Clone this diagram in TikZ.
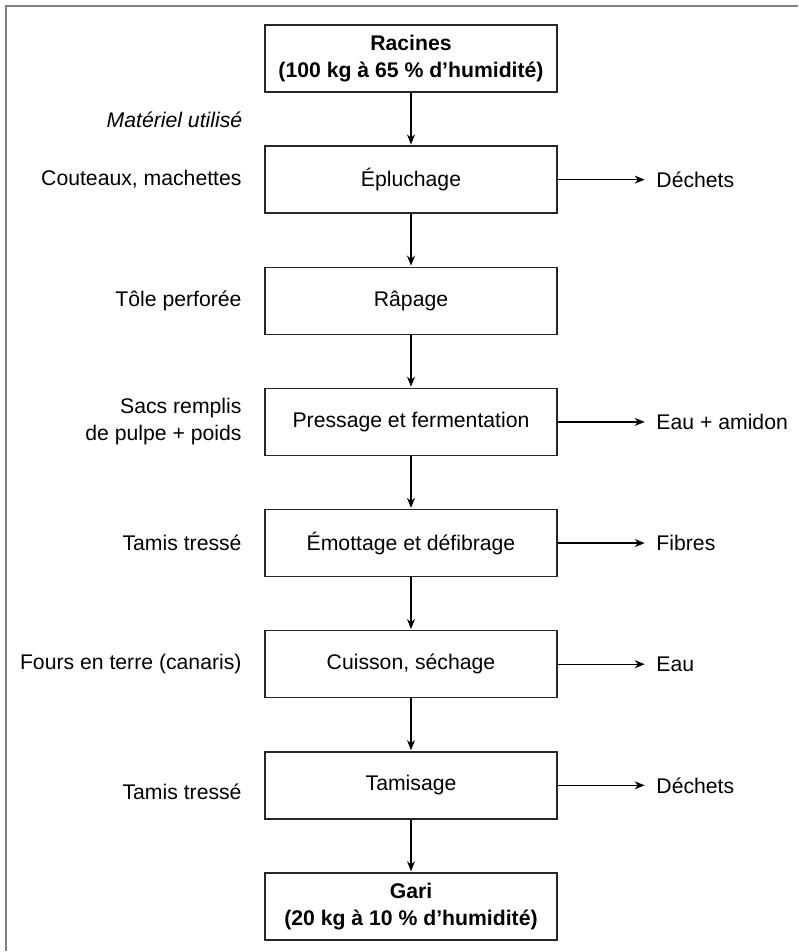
\documentclass[tikz,border=0pt]{standalone}
\usepackage{fontspec}
\setmainfont{Liberation Sans}
\usetikzlibrary{arrows.meta,positioning}

\begin{document}
\fontsize{10.6}{13.5}\selectfont
\begin{tikzpicture}[->,>={Stealth[length=5pt,width=4pt]},shorten >=0.5pt,auto,node distance=60.57pt,
    line width=0.7pt,step box/.style={rectangle,draw=black!85,minimum width=146pt,minimum height=33.5pt,align=center},
    end box/.style={step box,font=\bfseries}, mat node/.style={align=right}, out node/.style={align=left}]

  \useasboundingbox (-205.5pt,29.25pt) rectangle (193.5pt,-446.75pt);
  \draw[-,black!50,line width=1pt] (193.5pt,26.25pt) -- (-202.5pt,26.25pt) -- (-202.5pt,-446.75pt);

  \node[end box] (rac) {Racines\\(100 kg à 65 \% d’humidité)};
  \node[step box] (eplu) [below of=rac] {Épluchage};
  \node[step box] (rap) [below of=eplu] {Râpage};
  \node[step box] (press) [below of=rap] {Pressage et fermentation};
  \node[step box] (emot) [below of=press] {Émottage et défibrage};
  \node[step box] (cuis) [below of=emot] {Cuisson, séchage};
  \node[step box] (tamis) [below of=cuis] {Tamisage};
  \node[end box] (gari) [below of=tamis] {Gari\\(20 kg à 10 \% d’humidité)};

  \node[mat node,font=\itshape,anchor=east] (mat) at (-80.5pt,-30.75pt) {Matériel utilisé};
  \node[mat node,left=7.5pt of eplu] (couteaux) {Couteaux, machettes};
  \node[mat node,left=7.5pt of rap] (tole) {Tôle perforée};
  \node[mat node,left=7.5pt of press] (sacs) {Sacs remplis\\de pulpe + poids};
  \node[mat node,left=7.5pt of emot] (tamisA) {Tamis tressé};
  \node[mat node,left=7.5pt of cuis] (fours) {Fours en terre (canaris)};
  \node[mat node,left=7.5pt of tamis,yshift=-3pt] (tamisB) {Tamis tressé};

  \node[out node,right=45.5pt of eplu] (dechA) {Déchets};
  \node[out node,right=45.5pt of press] (eauam) {Eau + amidon};
  \node[out node,right=45.5pt of emot] (fibres) {Fibres};
  \node[out node,right=45.5pt of cuis] (eau) {Eau};
  \node[out node,right=45.5pt of tamis] (dechB) {Déchets};

  \path (rac) edge (eplu)
        (eplu) edge (rap)
        (rap) edge (press)
        (press) edge (emot)
        (emot) edge (cuis)
        (cuis) edge (tamis)
        (tamis) edge (gari);

  \path[shorten >=2pt] (eplu) edge (dechA)
        (press) edge (eauam)
        (emot) edge (fibres)
        (cuis) edge (eau)
        (tamis) edge (dechB);

\end{tikzpicture}
\end{document}
